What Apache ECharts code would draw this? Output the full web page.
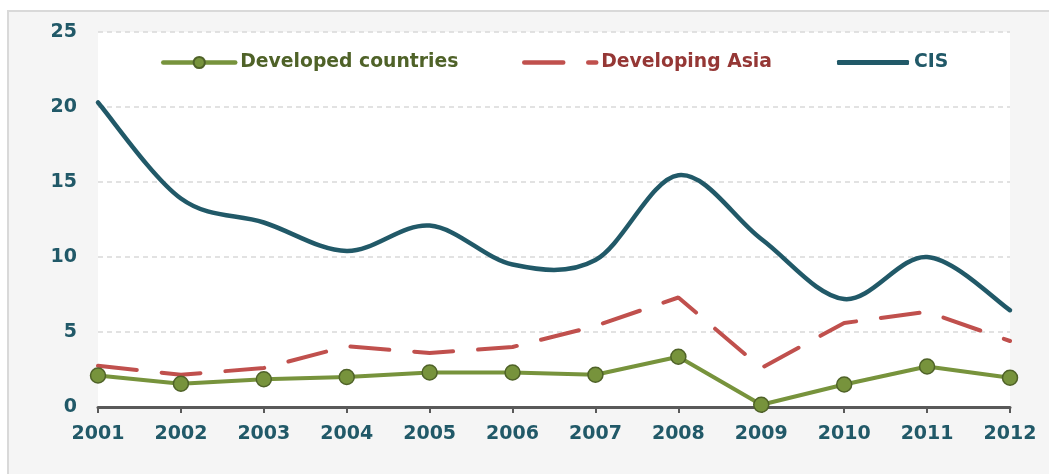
<!DOCTYPE html>
<html>
<head>
<meta charset="utf-8">
<script src="https://cdn.jsdelivr.net/npm/echarts@6/dist/echarts.min.js"></script>
<style>
  html, body { margin: 0; padding: 0; background: #ffffff; }
  #panel {
    position: absolute; left: 7px; top: 10px; width: 1042px; height: 464px;
    background: #f5f5f5; border-left: 2px solid #d9d9d9; border-top: 2px solid #d9d9d9;
    box-sizing: border-box;
  }
  #chart { position: absolute; left: 0; top: 0; width: 1049px; height: 474px; }
</style>
</head>
<body>
<div id="panel"></div>
<div id="chart"></div>
<script>
// Years on the category axis
const years = ['2001', '2002', '2003', '2004', '2005', '2006', '2007', '2008', '2009', '2010', '2011', '2012'];

// Annual values (per cent) for each group
const developedCountries = [2.1, 1.55, 1.85, 2.0, 2.3, 2.3, 2.15, 3.35, 0.15, 1.5, 2.7, 1.95];
const developingAsia = [2.75, 2.15, 2.6, 4.05, 3.6, 4.0, 5.4, 7.3, 2.6, 5.6, 6.35, 4.4];
const cis = [20.3, 13.9, 12.3, 10.4, 12.1, 9.5, 9.8, 15.45, 11.2, 7.2, 10.0, 6.45];

const font = '"DejaVu Sans", Verdana, sans-serif';
const tealText = '#215968';
const cisColor = '#215968';

// One legend block per series so each entry sits at its own spot
function legendBlock(left, name, color, extra) {
  return Object.assign({
    top: 48, left: left,
    itemWidth: 72, itemHeight: 14,
    textStyle: { fontFamily: font, fontWeight: 'bold', fontSize: 18.8, color: color }
  }, extra);
}

// Smooth curve through every point of a series (Catmull-Rom spline drawn as cubic Beziers),
// positioned with the grid's own coordinate conversion.
function renderSmoothCurve(params, api) {
  if (params.dataIndex !== 0) return null;
  const pts = cis.map((v, i) => api.coord([i, v]));
  const n = pts.length;
  const P = (k) => pts[Math.max(0, Math.min(n - 1, k))];
  let d = 'M' + pts[0][0] + ',' + pts[0][1];
  for (let i = 0; i < n - 1; i++) {
    const p0 = P(i - 1), p1 = P(i), p2 = P(i + 1), p3 = P(i + 2);
    const c1x = p1[0] + (p2[0] - p0[0]) / 6, c1y = p1[1] + (p2[1] - p0[1]) / 6;
    const c2x = p2[0] - (p3[0] - p1[0]) / 6, c2y = p2[1] - (p3[1] - p1[1]) / 6;
    d += 'C' + c1x + ',' + c1y + ',' + c2x + ',' + c2y + ',' + p2[0] + ',' + p2[1];
  }
  return {
    type: 'path',
    shape: { pathData: d },
    style: { stroke: cisColor, lineWidth: 4.5, fill: 'none', lineCap: 'round', lineJoin: 'round' }
  };
}

const chart = echarts.init(document.getElementById('chart'), null, { renderer: 'canvas' });

chart.setOption({
  backgroundColor: 'transparent',
  animation: false,
  grid: {
    left: 98, right: 39, top: 32, bottom: 67,
    show: true, backgroundColor: '#ffffff', borderWidth: 0
  },
  legend: [
    legendBlock(156, 'Developed countries', '#4f6228', {
      data: [{ name: 'Developed countries', lineStyle: { width: 4.5, cap: 'round' } }]
    }),
    legendBlock(517, 'Developing Asia', '#953735', {
      data: [{ name: 'Developing Asia', itemStyle: { opacity: 0 }, lineStyle: { width: 4.5, cap: 'round' } }]
    }),
    legendBlock(832, 'CIS', tealText, {
      itemHeight: 5,
      data: [{ name: 'CIS', icon: 'roundRect', itemStyle: { color: cisColor } }]
    })
  ],
  xAxis: {
    type: 'category',
    data: years,
    boundaryGap: false,
    axisLine: { lineStyle: { color: '#595959', width: 3 } },
    axisTick: { show: true, length: 6, alignWithLabel: true, lineStyle: { color: '#595959', width: 2 } },
    axisLabel: { margin: 18, color: tealText, fontFamily: font, fontWeight: 'bold', fontSize: 19 },
    splitLine: { show: false }
  },
  yAxis: {
    type: 'value',
    min: 0, max: 25, interval: 5,
    axisLine: { show: false },
    axisTick: { show: false },
    axisLabel: { margin: 21, color: tealText, fontFamily: font, fontWeight: 'bold', fontSize: 19 },
    splitLine: { lineStyle: { color: '#d9d9d9', width: 1.5, type: [5, 4] } }
  },
  series: [
    {
      name: 'Developed countries',
      type: 'line',
      data: developedCountries,
      symbol: 'circle',
      symbolSize: 15,
      itemStyle: { color: '#77933c', borderColor: '#4f6228', borderWidth: 1.5 },
      lineStyle: { color: '#77933c', width: 4, cap: 'round' },
      z: 4
    },
    {
      name: 'Developing Asia',
      type: 'line',
      data: developingAsia,
      symbol: 'none',
      itemStyle: { color: '#c0504d' },
      lineStyle: { color: '#c0504d', width: 4, type: [39, 25], cap: 'round' },
      z: 3
    },
    {
      name: 'CIS',
      type: 'custom',
      data: cis.map((v, i) => [i, v]),
      encode: { x: 0, y: 1 },
      itemStyle: { color: cisColor },
      renderItem: renderSmoothCurve,
      clip: false,
      z: 2
    }
  ]
});
</script>
</body>
</html>
